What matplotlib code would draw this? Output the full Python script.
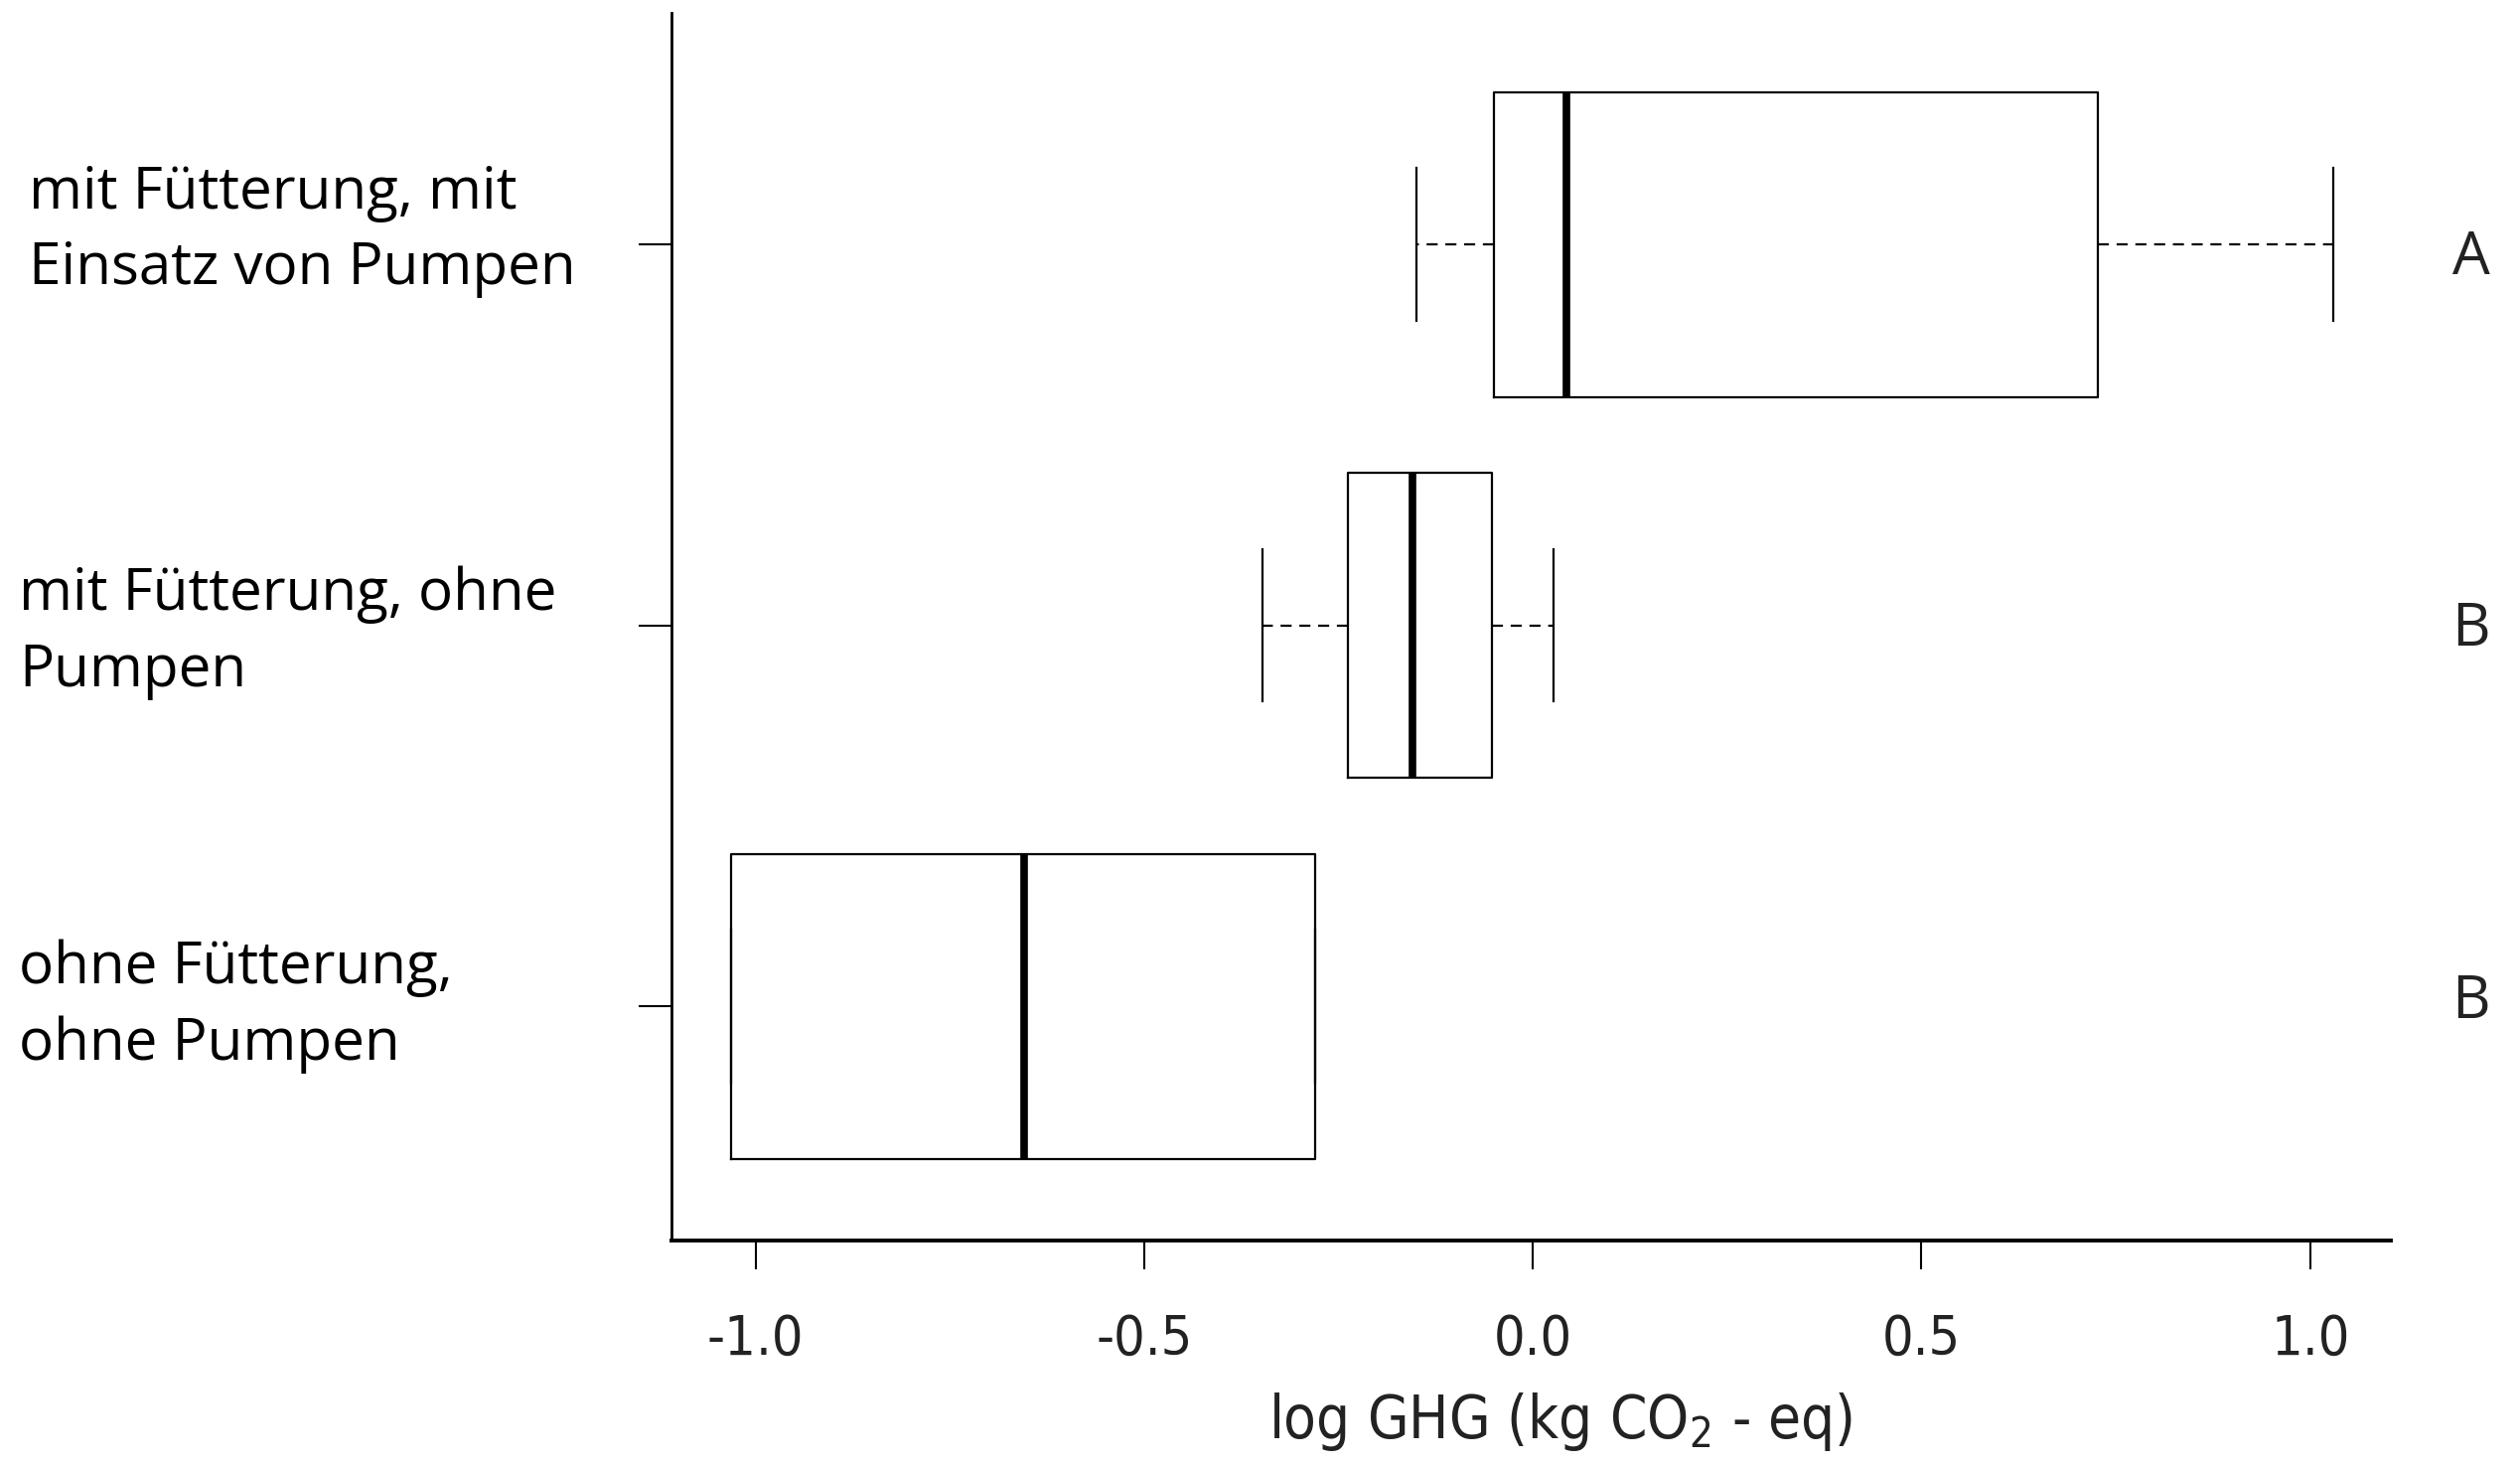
import matplotlib.pyplot as plt
import matplotlib.transforms as mtransforms
from matplotlib import font_manager as fm

# Daten
gruppen = ["mit Fütterung, mit\nEinsatz von Pumpen",
           "mit Fütterung, ohne\nPumpen",
           "ohne Fütterung,\nohne Pumpen"]
buchstaben = ["A", "B", "B"]
whis_lo = [-0.150, -0.348, -1.031]
q1 = [-0.050, -0.238, -1.031]
median = [0.043, -0.155, -0.655]
q3 = [0.727, -0.053, -0.280]
whis_hi = [1.030, 0.026, -0.280]
xticks = [-1.0, -0.5, 0.0, 0.5, 1.0]

# schmale Schrift suchen (wie Arial Narrow im Original)
schmal = None
for name in ['Liberation Sans Narrow', 'DejaVu Sans', 'Roboto', 'Open Sans', 'Noto Sans']:
    for f in fm.fontManager.ttflist:
        if f.name == name and 'condensed' in str(f.stretch) and f.style == 'normal':
            schmal = name
            break
    if schmal:
        break
if schmal:
    achs_font = schmal + ":stretch=condensed"
    tick_size, lab_size = 40, 43
else:
    achs_font = "DejaVu Sans"
    tick_size, lab_size = 36, 40

plt.rcParams['mathtext.fontset'] = 'custom'
plt.rcParams['mathtext.rm'] = achs_font
plt.rcParams['mathtext.it'] = achs_font
fp_tick = fm.FontProperties(achs_font)
fp_tick.set_size(tick_size)
fp_lab = fm.FontProperties(achs_font)
fp_lab.set_size(lab_size)

fig = plt.figure(figsize=(25.37, 14.74), dpi=100)
ax = fig.add_axes([0.2665, 0.1526, 0.9488 - 0.2665, 0.9912 - 0.1526])

pos = [3, 2, 1]
stats = []
for i in range(len(gruppen)):
    stats.append(dict(whislo=whis_lo[i], q1=q1[i], med=median[i],
                      q3=q3[i], whishi=whis_hi[i], fliers=[]))

ax.bxp(stats, positions=pos, widths=0.8, capwidths=0.4,
       orientation='horizontal', showfliers=False,
       boxprops=dict(color='black', linewidth=1.6),
       medianprops=dict(color='black', linewidth=5.5, solid_capstyle='butt'),
       whiskerprops=dict(color='black', linewidth=1.6, linestyle=(0, (5, 3.5))),
       capprops=dict(color='black', linewidth=1.6))

ax.set_xlim(-1.108, 1.104)
ax.set_ylim(0.385, 3.608)

for s in ['top', 'right']:
    ax.spines[s].set_visible(False)
ax.spines['left'].set_linewidth(2.0)
ax.spines['bottom'].set_linewidth(2.8)

ax.set_xticks(xticks)
ax.set_xticklabels(["%.1f" % v for v in xticks], fontproperties=fp_tick,
                   color='#222222')
ax.tick_params(axis='x', length=21, width=1.5, pad=31)
ax.set_yticks(pos)
ax.set_yticklabels([])
ax.tick_params(axis='y', length=24, width=1.5)

ax.set_xlabel("log GHG (kg CO$_2$ - eq)", fontproperties=fp_lab,
              color='#222222', labelpad=18)
ax.xaxis.label.set_x(0.517)

# Gruppenbeschriftung links, Buchstaben rechts
trans = mtransforms.blended_transform_factory(fig.transFigure, ax.transData)
label_x = [0.0114, 0.0075, 0.0075]
label_dy = [0.035, -0.02, 0.0]
buch_dy = [-0.035, -0.012, 0.01]
for i in range(len(gruppen)):
    ax.text(label_x[i], pos[i] + label_dy[i], gruppen[i], transform=trans,
            ha='left', va='center', fontsize=42, family='Open Sans',
            linespacing=1.4, color='black')
    ax.text(0.9805, pos[i] + buch_dy[i], buchstaben[i], transform=trans,
            ha='center', va='center', fontsize=43, family='Open Sans',
            color='#222222')

fig.savefig("out.png", dpi=100)
